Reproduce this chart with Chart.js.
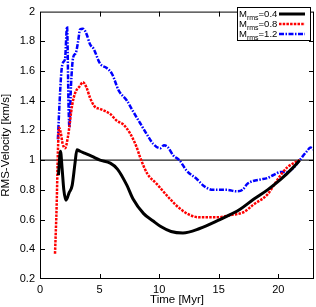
<!DOCTYPE html>
<html>
<head>
<meta charset="utf-8">
<script src="https://cdn.jsdelivr.net/npm/chart.js@4.4.1/dist/chart.umd.min.js"></script>
<style>
    html, body { margin: 0; padding: 0; background: #fff; }
    #wrap { width: 316px; height: 307px; }
</style>
</head>
<body>
<div id="wrap"><canvas id="chart" width="316" height="307"></canvas></div>
<script>
// ----------------------------------------------------
// DATA
// ----------------------------------------------------
const time04 = [1.55, 1.72, 1.85, 2.0, 2.18, 2.44, 2.7, 2.94, 3.1, 3.36, 3.8, 4.37, 5.04, 5.9, 6.5, 7.3, 7.8, 8.7, 9.5, 10.1, 11.0, 12.0, 13.4, 15.1, 16.0, 16.8, 17.9, 19.1, 20.2, 21.3, 21.8];
const rms04  = [0.90, 1.06, 0.95, 0.80, 0.73, 0.78, 0.83, 0.98, 1.07, 1.06, 1.045, 1.025, 1.0, 0.98, 0.94, 0.83, 0.74, 0.64, 0.59, 0.555, 0.52, 0.51, 0.54, 0.60, 0.635, 0.67, 0.735, 0.80, 0.87, 0.955, 1.0];

const time08 = [1.26, 1.4, 1.5, 1.6, 1.75, 1.9, 2.1, 2.35, 2.7, 2.94, 3.36, 3.6, 3.9, 4.2, 4.6, 5.04, 5.9, 6.45, 7.0, 7.56, 8.1, 8.4, 9.0, 9.8, 10.9, 11.8, 12.6, 13.4, 14.9, 16.0, 17.1, 17.9, 19.1, 19.7, 20.3, 20.8, 21.3, 21.8];
const rms08  = [0.37, 0.70, 1.05, 1.22, 1.18, 1.11, 1.08, 1.16, 1.37, 1.45, 1.50, 1.525, 1.49, 1.42, 1.36, 1.345, 1.31, 1.265, 1.24, 1.18, 1.09, 1.02, 0.91, 0.84, 0.74, 0.67, 0.63, 0.615, 0.615, 0.63, 0.65, 0.70, 0.77, 0.84, 0.91, 0.955, 0.98, 1.0];

const time12 = [1.5, 1.65, 1.8, 1.95, 2.1, 2.27, 2.4, 2.47, 2.6, 2.78, 3.0, 3.2, 3.36, 3.6, 3.9, 4.2, 4.5, 5.04, 5.6, 6.05, 6.6, 7.3, 7.8, 8.4, 9.0, 9.5, 10.1, 10.4, 10.7, 11.2, 11.7, 12.3, 13.2, 13.7, 14.5, 15.7, 16.5, 17.0, 17.4, 17.9, 18.5, 19.1, 19.6, 20.2, 20.7, 21.3, 21.8, 22.4, 22.7, 23.0];
const rms12  = [1.14, 1.40, 1.60, 1.66, 1.68, 1.90, 1.35, 1.22, 1.50, 1.69, 1.72, 1.80, 1.88, 1.885, 1.85, 1.78, 1.75, 1.65, 1.62, 1.58, 1.47, 1.40, 1.33, 1.25, 1.17, 1.11, 1.08, 1.10, 1.09, 1.03, 1.0, 0.93, 0.87, 0.83, 0.80, 0.80, 0.79, 0.80, 0.84, 0.86, 0.87, 0.88, 0.90, 0.92, 0.92, 0.95, 1.0, 1.06, 1.085, 1.07];

const refTime = [0, 23];
const refLevel = [1, 1];

const xTicks = [0, 5, 10, 15, 20];
const yTicks = [0.2, 0.4, 0.6, 0.8, 1.0, 1.2, 1.4, 1.6, 1.8, 2.0];
const machLabels = ['0.4', '0.8', '1.2'];

const FONT = "'Liberation Sans', Arial, sans-serif";

const toPoints = (xs, ys) => xs.map((x, i) => ({ x: x, y: ys[i] }));

// ----------------------------------------------------
// FRAME, INNER TICKS & LEGEND (gnuplot look)
// ----------------------------------------------------
const framePlugin = {
    id: 'frame',
    afterDatasetsDraw(chart) {
        const { ctx, chartArea: a, scales } = chart;
        ctx.save();
        ctx.strokeStyle = '#000';
        ctx.lineWidth = 1;
        ctx.beginPath();
        xTicks.forEach(v => {
            const px = Math.round(scales.x.getPixelForValue(v)) + 0.5;
            if (px <= a.left + 1 || px >= a.right - 1) return;
            ctx.moveTo(px, a.bottom); ctx.lineTo(px, a.bottom - 5);
            ctx.moveTo(px, a.top); ctx.lineTo(px, a.top + 5);
        });
        yTicks.forEach(v => {
            const py = Math.round(scales.y.getPixelForValue(v)) + 0.5;
            if (py <= a.top + 1 || py >= a.bottom - 1) return;
            ctx.moveTo(a.left, py); ctx.lineTo(a.left + 5, py);
            ctx.moveTo(a.right, py); ctx.lineTo(a.right - 5, py);
        });
        ctx.stroke();
        ctx.strokeRect(a.left + 0.5, a.top + 0.5, a.right - a.left - 1, a.bottom - a.top - 1);
        ctx.restore();
    },
    afterDraw(chart) {
        const ctx = chart.ctx;
        const box = { x: 237.5, y: 7.5, w: 73, h: 33 };
        ctx.save();
        ctx.fillStyle = '#fff';
        ctx.fillRect(box.x, box.y, box.w, box.h);
        ctx.strokeStyle = '#000';
        ctx.lineWidth = 1;
        ctx.strokeRect(box.x, box.y, box.w, box.h);
        ctx.textBaseline = 'alphabetic';
        ctx.fillStyle = '#000';
        machLabels.forEach((lab, i) => {
            const base = 17 + i * 10;
            let tx = 239;
            ctx.font = `9.5px ${FONT}`;
            ctx.fillText('M', tx, base);
            tx += ctx.measureText('M').width;
            ctx.font = `7px ${FONT}`;
            ctx.fillText('rms', tx, base + 3);
            tx += ctx.measureText('rms').width;
            ctx.font = `9.5px ${FONT}`;
            ctx.fillText('=' + lab, tx, base);

            const ds = chart.data.datasets[i];
            const ly = 14 + i * 10;
            ctx.beginPath();
            ctx.strokeStyle = ds.borderColor;
            ctx.lineWidth = ds.borderWidth;
            ctx.setLineDash(ds.borderDash || []);
            ctx.moveTo(279, ly);
            ctx.lineTo(305, ly);
            ctx.stroke();
            ctx.setLineDash([]);
        });
        ctx.restore();
    }
};

// ----------------------------------------------------
// CHART
// ----------------------------------------------------
const ctx = document.getElementById('chart').getContext('2d');
new Chart(ctx, {
    type: 'line',
    data: {
        datasets: [
            {
                label: 'Mrms=0.4',
                data: toPoints(time04, rms04),
                borderColor: '#000000',
                borderWidth: 3,
                cubicInterpolationMode: 'monotone',
                pointRadius: 0
            },
            {
                label: 'Mrms=0.8',
                data: toPoints(time08, rms08),
                borderColor: '#ff0000',
                borderWidth: 2.5,
                borderDash: [2.5, 1.2],
                cubicInterpolationMode: 'monotone',
                pointRadius: 0
            },
            {
                label: 'Mrms=1.2',
                data: toPoints(time12, rms12),
                borderColor: '#0000ff',
                borderWidth: 2.5,
                borderDash: [5, 1.5, 1.5, 1.5],
                cubicInterpolationMode: 'monotone',
                pointRadius: 0
            },
            {
                label: 'ref',
                data: toPoints(refTime, refLevel),
                borderColor: '#222222',
                borderWidth: 1.2,
                pointRadius: 0,
                order: 10
            }
        ]
    },
    options: {
        responsive: false,
        animation: false,
        devicePixelRatio: 1,
        layout: { padding: { top: 5, right: 2, left: 0, bottom: 0 } },
        plugins: { legend: { display: false }, tooltip: { enabled: false } },
        scales: {
            x: {
                type: 'linear',
                min: 0, max: 23,
                afterBuildTicks: s => { s.ticks = xTicks.map(v => ({ value: v })); },
                afterFit: s => { s.height = 28; },
                grid: { display: false, drawTicks: false },
                border: { display: false },
                ticks: { color: '#000', padding: 4, maxRotation: 0, font: { family: FONT, size: 11 } },
                title: { display: true, text: 'Time [Myr]', color: '#000', padding: 0, font: { family: FONT, size: 11.5 } }
            },
            y: {
                type: 'linear',
                min: 0.2, max: 2,
                afterBuildTicks: s => { s.ticks = yTicks.map(v => ({ value: v })); },
                afterFit: s => { s.width = 40; },
                grid: { display: false, drawTicks: false },
                border: { display: false },
                ticks: { color: '#000', padding: 5, font: { family: FONT, size: 11 }, callback: v => String(+(+v).toFixed(1)) },
                title: { display: true, text: 'RMS-Velocity [km/s]', color: '#000', padding: 0, font: { family: FONT, size: 11.5, lineHeight: 1 } }
            }
        }
    },
    plugins: [framePlugin]
});
</script>
</body>
</html>
